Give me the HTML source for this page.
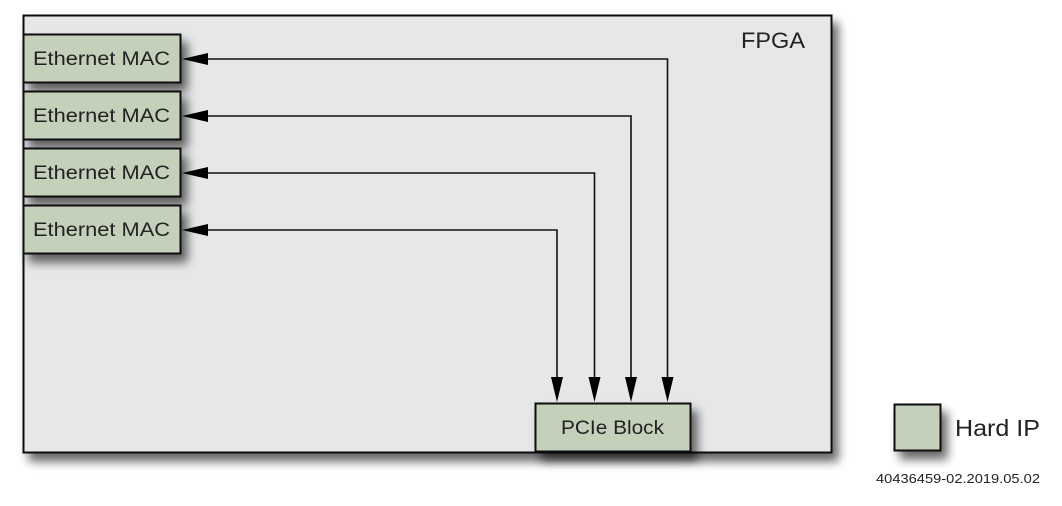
<!DOCTYPE html>
<html><head><style>
body{margin:0;width:1062px;height:501px;background:#fff;overflow:hidden;font-family:"Liberation Sans",sans-serif;}
</style></head><body>
<svg width="1062" height="501" xmlns="http://www.w3.org/2000/svg">
<defs>
<filter id="sh" x="-10%" y="-10%" width="130%" height="140%"><feGaussianBlur in="SourceAlpha" stdDeviation="5"/><feOffset dx="6" dy="8"/><feComponentTransfer><feFuncA type="linear" slope="0.6"/></feComponentTransfer><feMerge><feMergeNode/><feMergeNode in="SourceGraphic"/></feMerge></filter>
</defs>
<rect x="23.5" y="15.5" width="808" height="437" fill="#e6e7e9" stroke="#111" stroke-width="2" filter="url(#sh)"/>
<text x="741" y="48" font-size="22" fill="#222" textLength="64" lengthAdjust="spacingAndGlyphs">FPGA</text>
<g fill="#c5d0bb" stroke="#111" stroke-width="2" filter="url(#sh)">
<rect x="23.5" y="34.5" width="157" height="48"/>
<rect x="23.5" y="91.5" width="157" height="48"/>
<rect x="23.5" y="148.5" width="157" height="48"/>
<rect x="23.5" y="205.5" width="157" height="48"/>
<rect x="535.5" y="403.5" width="155" height="48"/>
<rect x="894.5" y="404.5" width="46" height="46"/>
</g>
<g font-size="19" fill="#222">
<text x="33" y="65" textLength="137" lengthAdjust="spacingAndGlyphs">Ethernet MAC</text>
<text x="33" y="122" textLength="137" lengthAdjust="spacingAndGlyphs">Ethernet MAC</text>
<text x="33" y="179" textLength="137" lengthAdjust="spacingAndGlyphs">Ethernet MAC</text>
<text x="33" y="236" textLength="137" lengthAdjust="spacingAndGlyphs">Ethernet MAC</text>
<text x="561" y="434" textLength="103" lengthAdjust="spacingAndGlyphs">PCIe Block</text>
</g>
<text x="955" y="436" font-size="23" fill="#222" textLength="85" lengthAdjust="spacingAndGlyphs">Hard IP</text>
<text x="876" y="483" font-size="13" fill="#222" textLength="164" lengthAdjust="spacingAndGlyphs">40436459-02.2019.05.02</text>
<g fill="none" stroke="#111" stroke-width="1.6">
<polyline points="205,59 667.5,59 667.5,382"/>
<polyline points="205,116 631,116 631,382"/>
<polyline points="205,173 594.5,173 594.5,382"/>
<polyline points="205,230 557,230 557,382"/>
</g>
<g fill="#000">
<polygon points="182,59 208,53 208,65"/>
<polygon points="182,116 208,110 208,122"/>
<polygon points="182,173 208,167 208,179"/>
<polygon points="182,230 208,224 208,236"/>
<polygon points="667.5,402 661.5,377 673.5,377"/>
<polygon points="631,402 625,377 637,377"/>
<polygon points="594.5,402 588.5,377 600.5,377"/>
<polygon points="557,402 551,377 563,377"/>
</g>
</svg>
</body></html>
